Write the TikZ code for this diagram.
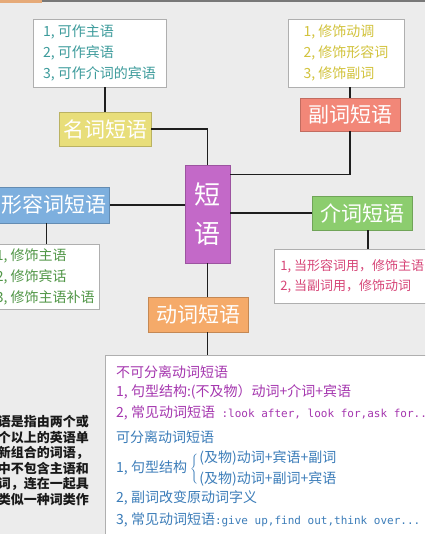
\documentclass[tikz,border=0pt]{standalone}
\usepackage{fontspec}
\usepackage{tikz}
\usetikzlibrary{positioning}
\newfontfamily\cjk{Noto Sans CJK SC}
\newfontfamily\mono{DejaVu Sans Mono}
\newcommand\setfs[2]{\fontsize{#1}{#2}\selectfont}

\definecolor{bggray}{RGB}{236,236,236}
\definecolor{topgray}{RGB}{120,120,120}
\definecolor{toporange}{RGB}{230,170,120}
\definecolor{boxline}{RGB}{175,175,175}
\definecolor{linkcol}{RGB}{30,30,30}
\definecolor{rootpur}{RGB}{195,105,200}
\definecolor{nounyel}{RGB}{232,222,122}
\definecolor{advsal}{RGB}{242,135,120}
\definecolor{adjblu}{RGB}{125,175,222}
\definecolor{prepgrn}{RGB}{140,205,110}
\definecolor{verborg}{RGB}{245,170,105}
\definecolor{nountxt}{RGB}{60,155,155}
\definecolor{advtxt}{RGB}{210,195,60}
\definecolor{adjtxt}{RGB}{80,150,70}
\definecolor{preptxt}{RGB}{215,70,120}
\definecolor{vpur}{RGB}{165,55,175}
\definecolor{vblu}{RGB}{60,125,185}

\begin{document}
\begin{tikzpicture}[x=1pt,y=-1pt,
  every node/.style={font=\cjk, inner sep=0pt},
  phrase/.style={rectangle, draw=#1!80!black, fill=#1, text=white, line width=0.6pt,
                 minimum width=100pt, minimum height=34pt, font=\cjk\setfs{21}{21}},
  listbox/.style={rectangle, draw=boxline, fill=white, line width=0.8pt, align=left,
                  font=\cjk\setfs{14}{21}},
  vline/.style={anchor=west, font=\cjk\setfs{14}{21}},
  link/.style={draw=linkcol, line width=1.2pt}]

\useasboundingbox (0,0) rectangle (425,534);
\clip (0,0) rectangle (425,534);
\fill[bggray] (0,0) rectangle (425,534);
\fill[topgray] (0,0) rectangle (425,2.2);
\fill[toporange] (0,0) rectangle (42,3);

% centre
\node (root) [phrase=rootpur, minimum width=45pt, minimum height=98pt, align=center,
  font=\cjk\setfs{26}{39}] at (207.5,214) {短\\语};

% noun phrase
\node (noun) [phrase=nounyel, minimum width=92pt] at (105,129) {名词短语};
\node (nlist) [listbox, text=nountxt, minimum width=133pt, minimum height=68pt]
  at (99.5,53) {1, 可作主语\\2, 可作宾语\\3, 可作介词的宾语};

% adverb phrase
\node (adv) [phrase=advsal, minimum height=33pt] at (350,114.5) {副词短语};
\node (alist) [listbox, text=advtxt, minimum width=116pt, minimum height=68pt]
  at (346,53) {1, 修饰动调\\2, 修饰形容词\\3, 修饰副词};

% adjective phrase
\node (adj) [phrase=adjblu, anchor=east, inner xsep=3pt, minimum height=36pt]
  at (110,205) {形容词短语};
\node (jlist) [listbox, text=adjtxt, anchor=north east, inner xsep=5pt, minimum height=65pt]
  at (100,244) {1, 修饰主语\\2, 修饰宾话\\3, 修饰主语补语};

% preposition phrase
\node (prep) [phrase=prepgrn] at (362,213) {介词短语};
\node (plist) [listbox, text=preptxt, anchor=north west, inner xsep=6pt, minimum height=54pt,
  font=\cjk\setfs{13}{20}] at (274,249) {1, 当形容词用，修饰主语\\2, 当副词用，修饰动词};

% verb phrase
\node (verb) [phrase=verborg, minimum height=35pt] at (198,314.5) {动词短语};
\node (vlist) [listbox, anchor=north west, minimum width=340pt, minimum height=200pt]
  at (105,355) {};
\node (v1) [vline, text=vpur] at (116,372) {不可分离动词短语};
\node (v2) [vline, text=vpur] at (116,392) {1, 句型结构:(不及物）动词+介词+宾语};
\node (v3) [vline, text=vpur] at (116,413)
  {2, 常见动词短语{\mono\setfs{11}{21}\ :look after, look for,ask for..}};
\node (v4) [vline, text=vblu] at (116,437) {可分离动词短语};
\node (v5) [vline, text=vblu] at (116,469)
  {1, 句型结构 $\left\{\rule[-12.5pt]{0pt}{32pt}\right.$\begin{tabular}{@{}l@{}}(及物)动词+宾语+副词\\(及物)动词+副词+宾语\end{tabular}};
\node (v6) [vline, text=vblu] at (116,498) {2, 副词改变原动词字义};
\node (v7) [vline, text=vblu] at (116,520)
  {3, 常见动词短语{\mono\setfs{11}{21}:give up,find out,think over...}};

% note on the left
\node (intro) [anchor=east, align=right, text=black!90, font=\cjk\bfseries\setfs{13}{15.5}]
  at (89,460.5) {语是指由两个或\\个以上的英语单\\新组合的词语，\\中不包含主语和\\词，连在一起具\\类似一种词类作};

% connectors
\draw[link] (nlist.south -| noun.north) -- (noun.north);
\draw[link] (noun.east) -| (root.north);
\draw[link] (alist.south -| adv.north) -- (adv.north);
\draw[link] ([yshift=-10pt]root.north east) -| (adv.south);
\draw[link] (adj.east) -- (adj.east -| root.west);
\draw[link] ([xshift=-7.5pt]adj.south) -- ([xshift=-7.5pt]adj.south |- jlist.north);
\draw[link] (prep.west) -- (prep.west -| root.east);
\draw[link] ([xshift=6pt]prep.south) -- ([xshift=6pt]prep.south |- plist.north);
\draw[link] (root.south) -- (root.south |- verb.north);
\draw[link] (verb.south -| root.south) -- (root.south |- vlist.north);

\end{tikzpicture}
\end{document}
